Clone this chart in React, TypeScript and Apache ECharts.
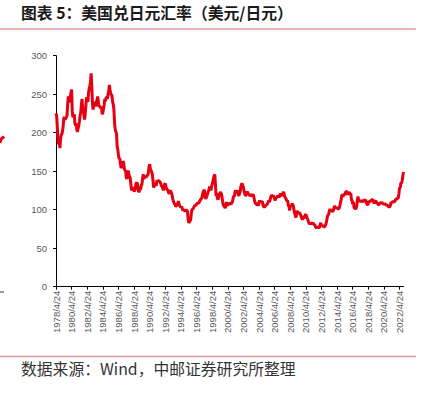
import React, { useEffect, useRef } from "react";
import * as echarts from "echarts";

// USD/JPY, monthly, from 1978/4 to 2022/10
const rates1978to1984 = [
  225, 222, 208, 190, 185, 189, 180, 192, 197,
  198, 202, 208, 219, 220, 217, 217, 220, 223, 238, 247, 240,
  241, 247, 252, 256, 228, 220, 222, 224, 213, 209, 212, 204,
  201, 206, 209, 215, 222, 226, 236, 244, 231, 232, 222, 217,
  226, 236, 246, 243, 240, 252, 257, 261, 266, 277, 261, 238,
  230, 237, 240, 238, 234, 240, 242, 247, 241, 234, 235, 232,
  233, 232, 224, 226, 231, 236, 244, 241, 245, 246, 244, 250,
];
const rates1985to1994 = [
  254, 262, 256, 251, 251, 248, 240, 237, 230, 212, 204, 201,
  199, 182, 178, 171, 166, 167, 160, 154, 154, 157, 163, 161,
  153, 153, 150, 142, 140, 145, 151, 146, 143, 141, 134, 125,
  128, 129, 127, 124, 125, 129, 134, 135, 134, 128, 123, 124,
  128, 126, 132, 133, 140, 146, 140, 142, 144, 142, 143, 143,
  145, 148, 156, 159, 153, 153, 149, 146, 138, 129, 130, 135,
  133, 131, 138, 137, 138, 138, 137, 137, 134, 131, 130, 128,
  125, 128, 133, 134, 130, 127, 126, 125, 122, 121, 124, 125,
  125, 120, 116, 112, 110, 107, 108, 104, 105, 107, 108, 111,
  111, 105, 104, 103, 104, 102, 99, 100, 99, 98, 98, 100,
];
const rates1995to2004 = [
  100, 98, 88, 83, 84, 84, 87, 96, 100, 101, 102, 103,
  106, 105, 106, 107, 107, 109, 108, 108, 111, 113, 113, 115,
  119, 123, 123, 126, 117, 114, 116, 118, 121, 121, 126, 130,
  128, 125, 130, 133, 136, 141, 144, 146, 133, 118, 121, 115,
  113, 117, 120, 120, 123, 121, 117, 111, 106, 106, 104, 102,
  106, 110, 105, 107, 108, 106, 109, 108, 107, 109, 110, 114,
  118, 117, 123, 125, 122, 123, 125, 120, 118, 121, 123, 130,
  133, 134, 131, 129, 124, 121, 118, 119, 122, 123, 122, 120,
  119, 118, 119, 120, 117, 119, 120, 117, 112, 109, 109, 107,
  106, 109, 105, 110, 112, 109, 111, 110, 111, 106, 104, 103,
];
const rates2005to2014 = [
  104, 105, 107, 106, 108, 110, 112, 110, 113, 116, 119, 118,
  117, 118, 117, 114, 112, 115, 115, 117, 118, 117, 116, 119,
  121, 119, 118, 120, 122, 123, 119, 116, 115, 115, 111, 112,
  106, 104, 99, 104, 105, 106, 108, 108, 104, 98, 95, 91,
  90, 97, 98, 98, 95, 96, 95, 93, 90, 90, 87, 92,
  90, 89, 93, 94, 91, 89, 87, 84, 84, 81, 83, 82,
  82, 82, 83, 81, 81, 80, 77, 77, 77, 78, 77, 77,
  77, 81, 83, 80, 79, 80, 78, 78, 78, 80, 82, 86,
  91, 93, 94, 98, 101, 98, 100, 98, 98, 98, 102, 105,
  103, 102, 103, 102, 102, 101, 102, 104, 109, 112, 118, 120,
];
const rates2015to2022 = [
  117, 119, 120, 119, 123, 123, 124, 121, 120, 121, 123, 120,
  121, 113, 112, 107, 110, 103, 102, 102, 101, 104, 112, 117,
  113, 112, 111, 111, 111, 112, 111, 110, 112, 113, 112, 113,
  109, 107, 106, 109, 109, 111, 111, 111, 113, 113, 113, 110,
  108, 111, 111, 111, 109, 108, 108, 106, 108, 108, 109, 109,
  109, 108, 108, 107, 108, 107, 106, 106, 106, 105, 104, 103,
  104, 106, 110, 109, 110, 111, 110, 110, 111, 114, 113, 115,
  115, 115, 121, 129, 128, 135, 134, 138, 144, 149,
];

const rates = [
  ...rates1978to1984,
  ...rates1985to1994,
  ...rates1995to2004,
  ...rates2005to2014,
  ...rates2015to2022,
];

// monthly category labels starting 1978/4/24
const categories: string[] = rates.map((_, i) => {
  const m = 3 + i;
  return `${1978 + Math.floor(m / 12)}/${(m % 12) + 1}/24`;
});

const yTicks = { min: 0, max: 300, interval: 50 };

const titleText = "图表 5：美国兑日元汇率（美元/日元）";
const sourceText = "数据来源：Wind，中邮证券研究所整理";

export default function App() {
  const ref = useRef<HTMLDivElement>(null);
  useEffect(() => {
    if (!ref.current) return;
    const chart = echarts.init(ref.current, undefined, { renderer: "svg" });
    const lineColor = "#e39aa1";
    chart.setOption({
      animation: false,
      backgroundColor: "#ffffff",
      grid: { left: 56, right: 26.5, top: 55.7, bottom: 106.3, containLabel: false },
      xAxis: {
        type: "category",
        data: categories,
        boundaryGap: false,
        axisLine: { show: true, lineStyle: { color: "#000", width: 1 } },
        axisTick: { show: true, interval: 23, length: 3, lineStyle: { color: "#000" } },
        axisLabel: {
          interval: 23,
          rotate: 90,
          margin: 4,
          fontSize: 9.5,
          color: "#595959",
          fontFamily: "Liberation Sans",
        },
        splitLine: { show: false },
      },
      yAxis: {
        type: "value",
        min: yTicks.min,
        max: yTicks.max,
        interval: yTicks.interval,
        axisLine: { show: true, lineStyle: { color: "#000", width: 1 } },
        axisTick: { show: true, length: 3, lineStyle: { color: "#000" } },
        axisLabel: { margin: 9, fontSize: 9.5, color: "#595959", fontFamily: "Liberation Sans" },
        splitLine: { show: false },
      },
      series: [
        {
          type: "line",
          data: rates,
          showSymbol: false,
          symbol: "none",
          lineStyle: { color: "#e50012", width: 3 },
          itemStyle: { color: "#e50012" },
        },
      ],
      graphic: [
        {
          type: "text",
          left: 21,
          top: 5,
          style: {
            text: titleText,
            fontSize: 15.8,
            fontWeight: "bold",
            fill: "#1a1a1a",
            fontFamily: "Noto Sans CJK SC",
          },
        },
        {
          type: "line",
          shape: { x1: 0, y1: 29, x2: 416, y2: 29 },
          style: { stroke: lineColor, lineWidth: 1.5 },
        },
        {
          type: "line",
          shape: { x1: 0, y1: 356.5, x2: 416, y2: 356.5 },
          style: { stroke: lineColor, lineWidth: 1.5 },
        },
        {
          type: "text",
          left: 21,
          top: 361,
          style: {
            text: sourceText,
            fontSize: 15.8,
            fill: "#333333",
            fontFamily: "Noto Sans CJK SC",
          },
        },
        {
          type: "polyline",
          shape: { points: [[0, 143], [1, 139], [3, 137.5], [4, 136.5]] },
          style: { stroke: "#e50012", lineWidth: 3, fill: null },
        },
        {
          type: "line",
          shape: { x1: 0, y1: 292, x2: 4, y2: 292 },
          style: { stroke: "#333", lineWidth: 1 },
        },
      ],
    });
    return () => chart.dispose();
  }, []);
  return (
    <div
      ref={ref}
      style={{ position: "absolute", left: 0, top: 0, width: 430, height: 393 }}
    />
  );
}
